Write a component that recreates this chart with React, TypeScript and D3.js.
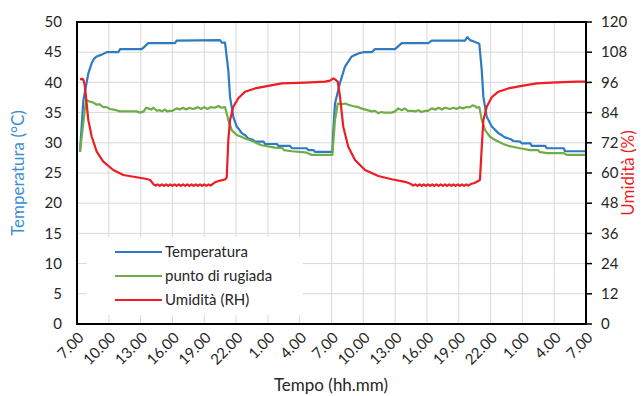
import React, { useEffect, useRef } from "react";
import * as d3 from "d3";

// ore dall'inizio (7.00 del primo giorno)
const tickLabels = ["7.00", "10.00", "13.00", "16.00", "19.00", "22.00", "1.00", "4.00", "7.00",
  "10.00", "13.00", "16.00", "19.00", "22.00", "1.00", "4.00", "7.00"];
const tempTicks = [0, 5, 10, 15, 20, 25, 30, 35, 40, 45, 50];
const rhTicks = [0, 12, 24, 36, 48, 60, 72, 84, 96, 108, 120];

const temperatura: [number, number][] = [
  [0.28, 28.5], [0.6, 37.0], [0.75, 38.5], [1.07, 41.5], [1.39, 43.2], [1.6, 43.9], [1.86, 44.3],
  [2.33, 44.6], [2.8, 45.0], [3.89, 45.0], [4.06, 45.5], [6.1, 45.5], [6.3, 45.8], [6.72, 46.5],
  [9.24, 46.5], [9.4, 46.9], [13.49, 47.0], [13.65, 46.6], [13.96, 46.6], [14.27, 42.0], [14.43, 37.6],
  [14.74, 34.3], [15.06, 32.7], [15.3, 32.2], [15.53, 31.6], [15.9, 31.2], [16.15, 30.7], [16.6, 30.5],
  [16.79, 30.2], [17.6, 30.2], [17.73, 29.8], [18.85, 29.8], [18.98, 29.5], [20.1, 29.5], [20.25, 29.1],
  [21.65, 29.1], [21.81, 28.8], [22.3, 28.8], [22.44, 28.5], [24.08, 28.5], [24.17, 32.1], [24.33, 36.5],
  [24.8, 39.9], [25.27, 42.6], [25.91, 44.3], [26.53, 44.8], [27.0, 45.0], [27.79, 45.0], [28.1, 45.5],
  [29.99, 45.5], [30.62, 46.5], [33.13, 46.5], [33.45, 46.9], [36.59, 46.9], [36.81, 47.5], [37.06, 47.0],
  [37.37, 46.8], [37.94, 46.4], [38.17, 42.0], [38.32, 37.6], [38.64, 34.3], [39.11, 32.7], [39.4, 32.2],
  [39.73, 31.6], [40.1, 31.2], [40.36, 30.9], [40.9, 30.6], [41.15, 30.3], [41.8, 30.2], [41.94, 29.9],
  [42.75, 29.9], [42.88, 29.5], [44.15, 29.5], [44.29, 29.1], [45.9, 29.1], [46.02, 28.6], [48, 28.6],
];

const puntoRugiada: [number, number][] = [
  [0.28, 28.5], [0.85, 37.1], [1.23, 36.8], [1.5, 36.7], [1.86, 36.3], [2.1, 36.4], [2.48, 35.9],
  [2.8, 35.9], [3.1, 35.6], [3.42, 35.5], [3.7, 35.4], [4.06, 35.2], [5.63, 35.2], [5.94, 35.0],
  [6.3, 35.2], [6.5, 35.8], [6.72, 35.7], [7.0, 35.5], [7.2, 35.8], [7.52, 35.3], [7.8, 35.4],
  [8.0, 35.2], [8.3, 35.5], [8.5, 35.2], [8.77, 35.3], [9.0, 35.3], [9.4, 35.7], [9.7, 35.5],
  [10.0, 35.8], [10.3, 35.5], [10.6, 35.8], [10.9, 35.6], [11.13, 35.7], [11.4, 35.9], [11.7, 35.6],
  [12.0, 35.9], [12.3, 35.6], [12.6, 35.9], [13.0, 35.8], [13.33, 36.1], [13.6, 35.8], [13.96, 35.9],
  [14.27, 33.8], [14.59, 32.1], [15.06, 31.3], [15.5, 31.0], [15.84, 30.7], [16.2, 30.5], [16.63, 30.2],
  [17.0, 29.9], [17.42, 29.6], [18.0, 29.4], [18.67, 29.2], [19.4, 29.1], [19.5, 28.8], [20.25, 28.6],
  [21.5, 28.4], [21.6, 28.4], [22.13, 28.0], [24.08, 28.0], [24.33, 33.8], [24.59, 36.5], [24.96, 36.4],
  [25.3, 36.5], [25.58, 36.3], [26.0, 36.1], [26.53, 35.9], [26.8, 35.7], [27.2, 35.5], [27.79, 35.2],
  [28.1, 35.3], [28.4, 34.9], [28.7, 35.1], [29.0, 35.0], [29.68, 35.0], [30.0, 35.2], [30.3, 35.7],
  [30.6, 35.4], [30.9, 35.7], [31.2, 35.3], [31.56, 35.3], [31.9, 35.2], [32.2, 35.4], [32.5, 35.1],
  [32.82, 35.3], [33.1, 35.3], [33.45, 35.7], [33.8, 35.5], [34.1, 35.8], [34.4, 35.5], [34.7, 35.8],
  [35.18, 35.6], [35.5, 35.8], [35.8, 35.6], [36.1, 35.9], [36.4, 35.7], [36.7, 35.9], [37.06, 35.9],
  [37.3, 36.2], [37.53, 36.1], [37.7, 35.8], [37.94, 35.9], [38.17, 33.8], [38.48, 32.1], [38.95, 31.0],
  [39.3, 30.6], [39.73, 30.2], [40.2, 29.8], [40.67, 29.5], [41.2, 29.3], [41.78, 29.1], [42.72, 28.8],
  [43.5, 28.8], [43.6, 28.5], [44.29, 28.3], [45.9, 28.3], [46.18, 28.0], [48, 28.0],
];

const umidita: [number, number][] = [
  [0.28, 97.2], [0.54, 97.4], [0.65, 96.5], [0.75, 94.3], [0.91, 87.7], [1.07, 81.0], [1.39, 74.4],
  [1.86, 68.5], [2.48, 64.5], [3.42, 61.2], [4.37, 59.2], [5.63, 58.3], [6.57, 57.6], [6.9, 57.2],
  [7.2, 55.6], [7.4, 55.0], [7.6, 55.5], [7.8, 54.9], [8.0, 55.5], [8.2, 54.9], [8.4, 55.5],
  [8.6, 54.9], [8.8, 55.5], [9.0, 54.9], [9.2, 55.5], [9.4, 54.9], [9.6, 55.5], [9.8, 54.9],
  [10.0, 55.5], [10.2, 54.9], [10.4, 55.5], [10.6, 54.9], [10.8, 55.5], [11.0, 54.9], [11.2, 55.5],
  [11.4, 54.9], [11.6, 55.5], [11.8, 54.9], [12.0, 55.5], [12.2, 54.9], [12.4, 55.5], [12.6, 55.0],
  [13.01, 56.3], [13.5, 57.0], [13.96, 57.4], [14.12, 58.2], [14.27, 73.1], [14.43, 81.0], [14.74, 86.3],
  [15.21, 89.7], [15.84, 92.3], [16.79, 93.6], [18.04, 94.6], [19.3, 95.6], [21.5, 95.9], [23.39, 96.3],
  [23.86, 96.7], [24.17, 97.6], [24.33, 97.2], [24.59, 96.3], [24.8, 90.3], [25.11, 78.4], [25.58, 70.4],
  [26.22, 65.2], [27.16, 61.2], [28.41, 58.8], [29.68, 57.5], [30.93, 56.5], [31.5, 55.6], [31.7, 55.0],
  [31.9, 55.5], [32.1, 54.9], [32.3, 55.5], [32.5, 54.9], [32.7, 55.5], [32.9, 54.9], [33.1, 55.5],
  [33.3, 54.9], [33.5, 55.5], [33.7, 54.9], [33.9, 55.5], [34.1, 54.9], [34.3, 55.5], [34.5, 54.9],
  [34.7, 55.5], [34.9, 54.9], [35.1, 55.5], [35.3, 54.9], [35.5, 55.5], [35.7, 54.9], [35.9, 55.5],
  [36.1, 54.9], [36.3, 55.5], [36.5, 54.9], [36.7, 55.5], [36.9, 55.0], [37.1, 55.5], [37.53, 56.1],
  [38.0, 57.2], [38.17, 70.4], [38.32, 81.0], [38.64, 86.3], [39.11, 90.1], [39.73, 92.3], [40.67, 93.6],
  [41.94, 94.6], [43.35, 95.6], [45.24, 96.0], [47.12, 96.3], [48, 96.3],
];

const series = [
  { name: "Temperatura", color: "#2e7bc4", axis: "t", data: temperatura },
  { name: "punto di rugiada", color: "#70ad47", axis: "t", data: puntoRugiada },
  { name: "Umidità (RH)", color: "#ee1c25", axis: "h", data: umidita },
];

const W = 643;
const H = 396;
const FONT = "Lato, 'Open Sans', sans-serif";

export default function App() {
  const ref = useRef<SVGSVGElement>(null);

  useEffect(() => {
    const svg = d3.select(ref.current);
    svg.selectAll("*").remove();

    const left = 77, right = 586, top = 22, bottom = 324;

    const x = d3.scaleLinear().domain([0, 48]).range([left, right]);
    const yT = d3.scaleLinear().domain([0, 50]).range([bottom, top]);
    const yH = d3.scaleLinear().domain([0, 120]).range([bottom, top]);

    svg.append("rect").attr("width", W).attr("height", H).attr("fill", "white");

    // griglia
    const g = svg.append("g");
    tickLabels.forEach((_, i) => {
      g.append("line")
        .attr("x1", x(i * 3)).attr("x2", x(i * 3))
        .attr("y1", top).attr("y2", bottom)
        .attr("stroke", "#d9d9d9").attr("stroke-width", 1);
    });
    tempTicks.forEach((t) => {
      g.append("line")
        .attr("x1", left).attr("x2", right)
        .attr("y1", yT(t)).attr("y2", yT(t))
        .attr("stroke", "#d9d9d9").attr("stroke-width", 1);
    });

    // legenda (sfondo bianco sotto le curve)
    svg.append("rect")
      .attr("x", 87).attr("y", 237).attr("width", 216).attr("height", 78)
      .attr("fill", "white");

    // curve
    series.forEach((s) => {
      const y = s.axis === "t" ? yT : yH;
      const line = d3.line<[number, number]>()
        .x((d) => x(d[0]))
        .y((d) => y(d[1]));
      svg.append("path")
        .attr("d", line(s.data))
        .attr("fill", "none")
        .attr("stroke", s.color)
        .attr("stroke-width", 2.2)
        .attr("stroke-linejoin", "round");
    });

    // cornice
    svg.append("rect")
      .attr("x", left).attr("y", top)
      .attr("width", right - left).attr("height", bottom - top)
      .attr("fill", "none").attr("stroke", "black").attr("stroke-width", 2);

    // asse sinistro
    tempTicks.forEach((t) => {
      svg.append("text")
        .attr("x", 62).attr("y", yT(t)).attr("dy", "0.35em")
        .attr("text-anchor", "end")
        .style("font-family", FONT).style("font-size", "15px").attr("fill", "#262626")
        .text(t);
    });

    // asse destro
    rhTicks.forEach((t) => {
      svg.append("line")
        .attr("x1", right).attr("x2", right + 6)
        .attr("y1", yH(t)).attr("y2", yH(t))
        .attr("stroke", "black").attr("stroke-width", 1.5);
      svg.append("text")
        .attr("x", 601).attr("y", yH(t)).attr("dy", "0.35em")
        .style("font-family", FONT).style("font-size", "15px").attr("fill", "#262626")
        .text(t);
    });

    // asse x
    tickLabels.forEach((lab, i) => {
      svg.append("text")
        .attr("transform", "translate(" + (x(i * 3) + 4) + "," + 335 + ") rotate(-45)")
        .attr("text-anchor", "end").attr("dy", "0.35em")
        .style("font-family", FONT).style("font-size", "15px").attr("fill", "#262626")
        .text(lab);
    });

    svg.append("text")
      .attr("x", 331).attr("y", 391)
      .attr("text-anchor", "middle")
      .style("font-family", FONT).style("font-size", "17px").attr("fill", "#262626")
      .text("Tempo (hh.mm)");

    svg.append("text")
      .attr("transform", "translate(24," + (top + bottom) / 2 + ") rotate(-90)")
      .attr("text-anchor", "middle")
      .style("font-family", FONT).style("font-size", "17px").attr("fill", "#3a8fcf")
      .text("Temperatura (°C)");

    svg.append("text")
      .attr("transform", "translate(634," + (top + bottom) / 2 + ") rotate(-90)")
      .attr("text-anchor", "middle")
      .style("font-family", FONT).style("font-size", "17px").attr("fill", "#ee1c25")
      .text("Umidità (%)");

    // voci della legenda
    series.forEach((s, i) => {
      const ly = 252 + i * 24;
      svg.append("line")
        .attr("x1", 115).attr("x2", 162)
        .attr("y1", ly).attr("y2", ly)
        .attr("stroke", s.color).attr("stroke-width", 2);
      svg.append("text")
        .attr("x", 165).attr("y", ly).attr("dy", "0.35em")
        .style("font-family", FONT).style("font-size", "15px").attr("fill", "#262626")
        .text(s.name);
    });
  }, []);

  return (
    <svg
      ref={ref}
      width={W}
      height={H}
      style={{ position: "absolute", left: 0, top: 0, display: "block" }}
    />
  );
}
